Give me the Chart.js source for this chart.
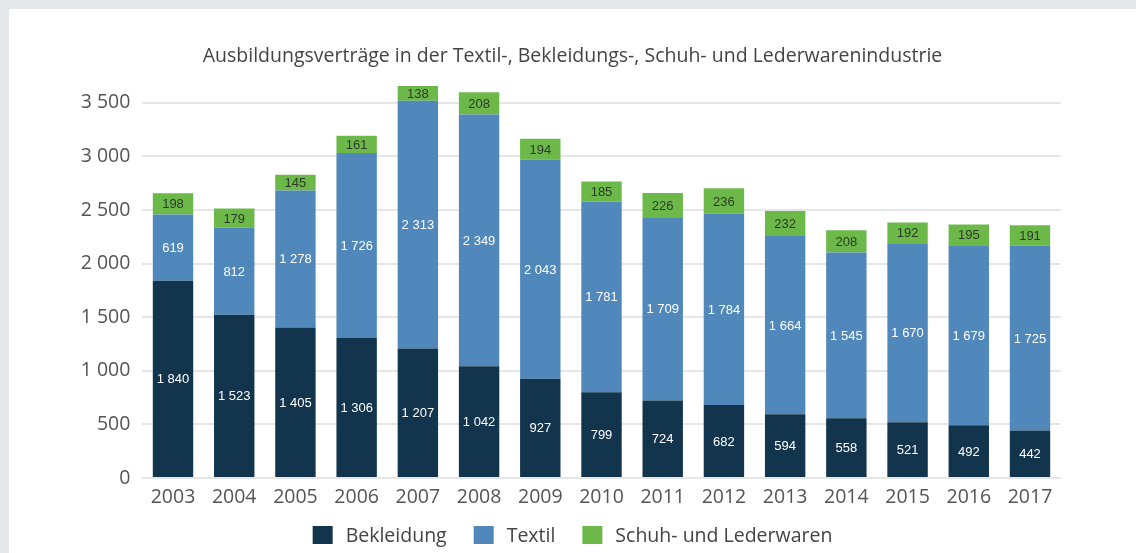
<!DOCTYPE html>
<html>
<head>
<meta charset="utf-8">
<script src="https://cdn.jsdelivr.net/npm/chart.js@4"></script>
<style>
  html, body { margin: 0; padding: 0; background: #e6e7e9; width: 1136px; height: 553px; overflow: hidden; }
  #panel { position: absolute; left: 9px; top: 9px; width: 1127px; height: 544px; background: #ffffff; }
  canvas { display: block; }
</style>
</head>
<body>
<div id="panel"><canvas id="c" width="1127" height="544"></canvas></div>
<script>
const years = ['2003','2004','2005','2006','2007','2008','2009','2010','2011','2012','2013','2014','2015','2016','2017'];
const bekleidung = [1840,1523,1405,1306,1207,1042,927,799,724,682,594,558,521,492,442];
const textil = [619,812,1278,1726,2313,2349,2043,1781,1709,1784,1664,1545,1670,1679,1725];
const schuh = [198,179,145,161,138,208,194,185,226,236,232,208,192,195,191];
const yTicks = [0,500,1000,1500,2000,2500,3000,3500];

const FONT = '"Open Sans", sans-serif';

function fmt(n) {
  const s = String(Math.round(n));
  return s.replace(/\B(?=(\d{3})+(?!\d))/g, ' ');
}

const labelPlugin = {
  id: 'segLabels',
  afterDatasetsDraw(chart) {
    const ctx = chart.ctx;
    ctx.save();
    ctx.font = '13px "Liberation Sans", Arial, sans-serif';
    ctx.textAlign = 'center';
    ctx.textBaseline = 'middle';
    chart.data.datasets.forEach((ds, di) => {
      const meta = chart.getDatasetMeta(di);
      meta.data.forEach((el, i) => {
        const p = el.getProps(['x','y','base'], true);
        ctx.fillStyle = ds.labelColor;
        ctx.fillText(fmt(ds.data[i]), p.x, (p.y + p.base) / 2 + 1);
      });
    });
    ctx.restore();
  }
};

// Legend drawn with the reference's spacing (box 20x18, gap 13, item gap 27)
const legendPlugin = {
  id: 'customLegend',
  afterDraw(chart) {
    const ctx = chart.ctx;
    const boxW = 20, boxH = 18, gap = 13, itemGap = 27, cy = 526;
    ctx.save();
    ctx.font = '19.5px ' + FONT;
    ctx.textBaseline = 'middle';
    ctx.textAlign = 'left';
    const items = chart.data.datasets.map(ds => ({ text: ds.label, color: ds.backgroundColor, w: ctx.measureText(ds.label).width }));
    let total = 0;
    items.forEach((it, i) => { total += boxW + gap + it.w + (i < items.length - 1 ? itemGap : 0); });
    let x = (chart.width - total) / 2;
    items.forEach(it => {
      ctx.fillStyle = it.color;
      ctx.fillRect(x, cy - boxH / 2, boxW, boxH);
      x += boxW + gap;
      ctx.fillStyle = '#444444';
      ctx.fillText(it.text, x, cy + 1);
      x += it.w + itemGap;
    });
    ctx.restore();
  }
};

new Chart(document.getElementById('c'), {
  type: 'bar',
  data: {
    labels: years,
    datasets: [
      { label: 'Bekleidung', data: bekleidung, backgroundColor: '#12344d', labelColor: '#ffffff' },
      { label: 'Textil', data: textil, backgroundColor: '#5088bb', labelColor: '#ffffff' },
      { label: 'Schuh- und Lederwaren', data: schuh, backgroundColor: '#6cb94a', labelColor: '#2d3a28' }
    ]
  },
  options: {
    responsive: false,
    animation: false,
    layout: { padding: { top: 36, left: 0, right: 0, bottom: 40.5 } },
    datasets: { bar: { categoryPercentage: 1.0, barPercentage: 0.66 } },
    plugins: {
      title: {
        display: true,
        text: 'Ausbildungsverträge in der Textil-, Bekleidungs-, Schuh- und Lederwarenindustrie',
        color: '#444444',
        font: { family: FONT, size: 19.5, weight: 'normal', lineHeight: 1.2 },
        padding: { top: 0, bottom: 13 }
      },
      legend: { display: false },
      tooltip: { enabled: false }
    },
    scales: {
      x: {
        stacked: true,
        grid: { display: false },
        border: { display: false },
        afterFit(scale) { scale.height = 34.5; },
        ticks: { color: '#555555', font: { family: FONT, size: 19.5 }, padding: 0 }
      },
      y: {
        stacked: true,
        min: 0, max: 3700,
        afterBuildTicks(scale) { scale.ticks = yTicks.map(v => ({ value: v })); },
        afterFit(scale) { scale.width = 133.4; },
        grid: { color: '#e6e6e6', lineWidth: 2, drawTicks: false },
        border: { display: false },
        ticks: {
          color: '#555555',
          font: { family: FONT, size: 19.5 },
          padding: 12,
          callback: v => fmt(v)
        }
      },
      yR: {
        position: 'right',
        display: true,
        grid: { display: false },
        border: { display: false },
        ticks: { display: false },
        afterFit(scale) { scale.width = 75.4; }
      }
    }
  },
  plugins: [labelPlugin, legendPlugin]
});
</script>
</body>
</html>
